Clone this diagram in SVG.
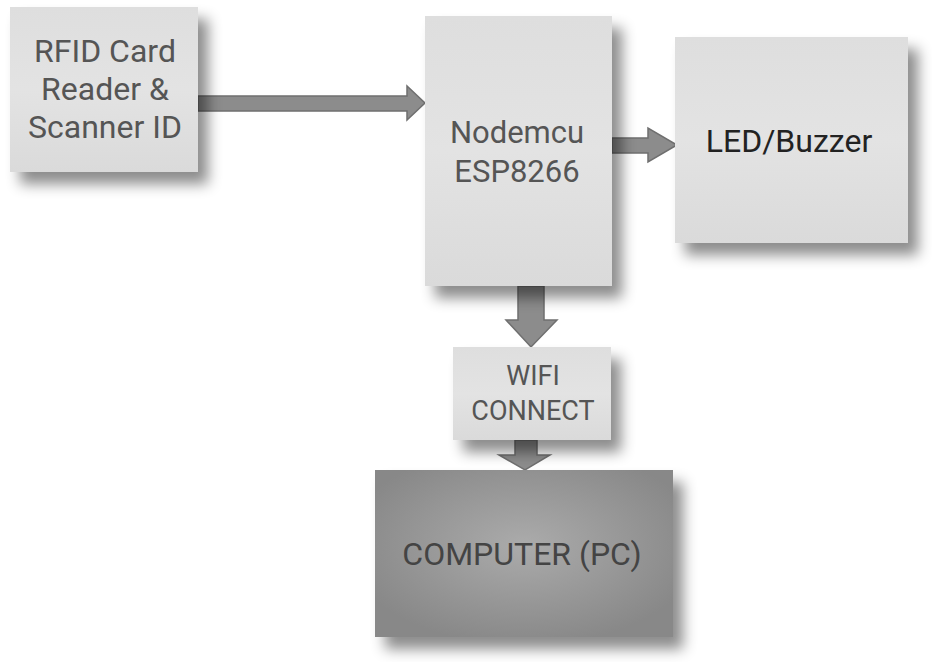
<svg xmlns="http://www.w3.org/2000/svg" width="932" height="662" viewBox="0 0 932 662">
<style>
.box{fill:url(#lg);filter:url(#sh)}
.t{font-family:Roboto,"Liberation Sans",sans-serif;text-anchor:middle;fill:#555}
.arr{fill:#8c8c8c;stroke:#6f6f6f;stroke-width:1.5}
</style>
<defs>
<linearGradient id="lg" x1="0" y1="0" x2="0" y2="1">
<stop offset="0" stop-color="#dedede"/><stop offset="0.5" stop-color="#e3e3e3"/><stop offset="1" stop-color="#dadada"/>
</linearGradient>
<radialGradient id="rg" cx="0.5" cy="0.45" r="0.6">
<stop offset="0" stop-color="#ababab"/><stop offset="1" stop-color="#888888"/>
</radialGradient>
<filter id="sh" x="-20%" y="-20%" width="150%" height="150%">
<feDropShadow dx="10" dy="12" stdDeviation="7" flood-color="#000" flood-opacity="0.45"/>
</filter>
</defs>
<rect width="932" height="662" fill="#fff"/>
<g id="connectors">
<path class="arr" d="M198 96 H407 V86 L425 103 L407 120 V111 H198 Z"/>
<path class="arr" d="M612 138 H648 V128 L677 145 L648 162 V153 H612 Z"/>
<path class="arr" d="M518 286 H544 V320 H557 L531 347 L506 320 H518 Z"/>
<path class="arr" d="M515 440 H537 V455 H550 L525 470 L499 455 H515 Z"/>
</g>
<g id="rfid">
<rect class="box" x="10" y="7" width="188" height="165"/>
<text class="t" x="105" y="62" font-size="32">RFID Card</text>
<text class="t" x="105" y="100" font-size="32">Reader &amp;</text>
<text class="t" x="105" y="138" font-size="32">Scanner ID</text>
</g>
<g id="nodemcu">
<rect class="box" x="425" y="16" width="187" height="270"/>
<text class="t" x="517" y="143" font-size="31">Nodemcu</text>
<text class="t" x="517" y="182" font-size="31">ESP8266</text>
</g>
<g id="led">
<rect class="box" x="675" y="37" width="233" height="206"/>
<text class="t" x="789" y="152" font-size="32" style="fill:#222">LED/Buzzer</text>
</g>
<g id="wifi">
<rect class="box" x="453" y="347" width="158" height="93"/>
<text class="t" x="533" y="385" font-size="27">WIFI</text>
<text class="t" x="533" y="420" font-size="27">CONNECT</text>
</g>
<g id="computer">
<rect x="375" y="470" width="298" height="167" fill="url(#rg)" filter="url(#sh)"/>
<text class="t" x="522" y="565" font-size="32" style="fill:#444">COMPUTER (PC)</text>
</g>
</svg>
